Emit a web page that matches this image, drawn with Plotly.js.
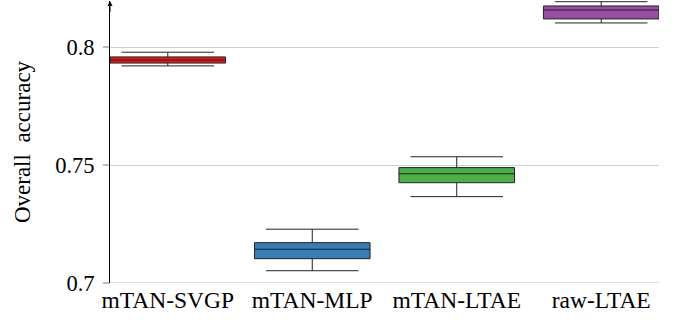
<!DOCTYPE html>
<html><head><meta charset="utf-8">
<script src="https://cdn.plot.ly/plotly-3.0.1.min.js"></script>
<style>body{margin:0;padding:0;background:#fff}#chart{width:675px;height:320px}</style>
</head><body><div id="chart"></div>
<script>
const categories = ["mTAN-SVGP", "mTAN-MLP", "mTAN-LTAE", "raw-LTAE"];
const lowerWhisker = [0.7920, 0.7052, 0.7366, 0.8102];
const q1Values     = [0.7932, 0.7103, 0.7425, 0.8119];
const medians      = [0.7945, 0.7143, 0.7463, 0.8157];
const q3Values     = [0.7958, 0.7171, 0.7489, 0.8174];
const upperWhisker = [0.7978, 0.7228, 0.7535, 0.8192];
const colors = ["#e41a1c", "#377eb8", "#4daf4a", "#984ea3"];
const yTickVals = [0.7, 0.75, 0.8];
const yTickText = ["0.7", "0.75", "0.8"];

const traces = categories.map((c, i) => ({
  type: "box",
  name: c,
  x: [c],
  lowerfence: [lowerWhisker[i]],
  q1: [q1Values[i]],
  median: [medians[i]],
  q3: [q3Values[i]],
  upperfence: [upperWhisker[i]],
  fillcolor: colors[i],
  line: {color: "#222222", width: 1},
  width: 0.8,
  whiskerwidth: 0.8,
  boxpoints: false,
  showlegend: false,
  hoverinfo: "skip"
}));

const layout = {
  width: 675, height: 320,
  margin: {l: 110, r: 16, t: 1, b: 37},
  paper_bgcolor: "#fff", plot_bgcolor: "#fff",
  font: {family: "Liberation Serif", size: 22, color: "#000"},
  boxmode: "overlay",
  showlegend: false,
  xaxis: {
    type: "category",
    categoryorder: "array",
    categoryarray: categories,
    range: [-0.4, 3.4],
    showgrid: false,
    showline: false,
    zeroline: false,
    ticks: "",
    tickfont: {family: "Liberation Serif", size: 23.5, color: "#000"},
    fixedrange: true
  },
  yaxis: {
    range: [0.7, 0.8195],
    tickvals: yTickVals,
    ticktext: yTickText,
    showgrid: true,
    gridcolor: "#d0d0d0",
    gridwidth: 1,
    zeroline: false,
    showline: true,
    linecolor: "#000",
    linewidth: 1,
    ticks: "outside",
    ticklen: 6,
    tickwidth: 1.5,
    tickcolor: "#bbbbbb",
    ticklabelstandoff: 4,
    tickfont: {family: "Liberation Serif", size: 22.5, color: "#000"},
    title: {text: "Overall  accuracy", font: {family: "Liberation Serif", size: 23, color: "#000"}, standoff: 18},
    fixedrange: true
  },
  shapes: [{
    type: "line", xref: "paper", yref: "y", x0: 0, x1: 1, y0: 0.7, y1: 0.7,
    line: {color: "#d0d0d0", width: 1.5}, layer: "below"
  }],
  annotations: [{
    xref: "paper", yref: "paper", x: 0, y: 1.005,
    ax: 0, ay: 14, axref: "pixel", ayref: "pixel",
    showarrow: true, arrowhead: 2, arrowsize: 1, arrowwidth: 1, arrowcolor: "#000",
    text: ""
  }]
};

Plotly.newPlot("chart", traces, layout, {staticPlot: true, displayModeBar: false});
</script>
</body></html>
